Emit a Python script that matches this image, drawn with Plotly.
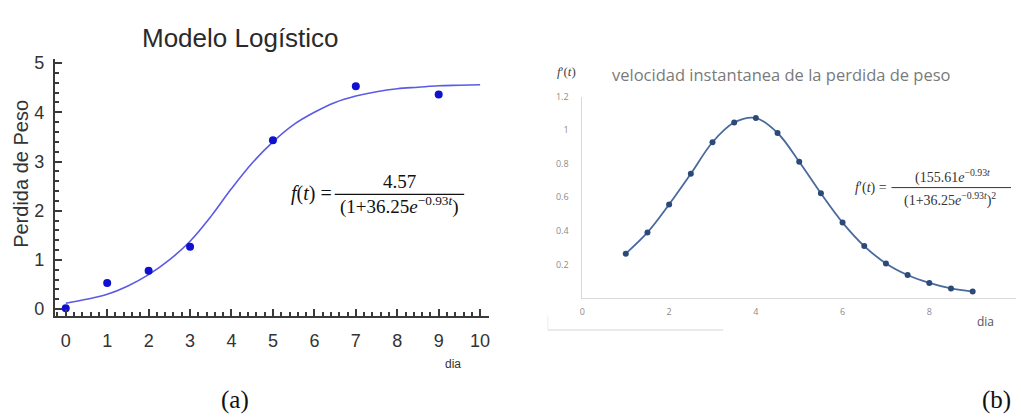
import plotly.graph_objects as go

W, H = 1021, 419

# ---------------- data ----------------
# (a) Modelo Logístico
dias_obs = [0, 1, 2, 3, 5, 7, 9]
perdida_obs = [0.02, 0.53, 0.78, 1.27, 3.43, 4.53, 4.36]
dias_ajuste = [0, 0.5, 1, 1.5, 2, 2.5, 3, 3.5, 4, 4.5, 5, 5.5, 6, 6.5, 7, 7.5, 8, 8.5, 9, 9.5, 10]
perdida_ajuste = [0.12, 0.2, 0.3, 0.47, 0.7, 1.0, 1.38, 1.88, 2.45, 2.97, 3.4, 3.75, 4.0, 4.2,
                  4.33, 4.42, 4.48, 4.51, 4.54, 4.55, 4.56]
ticks_a_x = [0, 1, 2, 3, 4, 5, 6, 7, 8, 9, 10]
ticks_a_y = [0, 1, 2, 3, 4, 5]

# (b) velocidad instantanea
dias_vel = [1, 1.5, 2, 2.5, 3, 3.5, 4, 4.5, 5, 5.5, 6, 6.5, 7, 7.5, 8, 8.5, 9]
velocidad = [0.265, 0.391, 0.558, 0.740, 0.928, 1.045, 1.072, 0.983, 0.812, 0.624,
             0.450, 0.310, 0.207, 0.138, 0.091, 0.058, 0.039]
ticks_b_x = [0, 2, 4, 6, 8, 10]
ticks_b_y = [0.2, 0.4, 0.6, 0.8, 1.0, 1.2]
ticks_b_y_text = ["0.2", "0.4", "0.6", "0.8", "1", "1.2"]


def px(x):
    return x / W


def py(y):
    return 1 - y / H


fig = go.Figure()

fig.add_trace(go.Scatter(x=dias_ajuste, y=perdida_ajuste, mode="lines",
                         line=dict(color="#5a5ae6", width=1.6, shape="spline"),
                         xaxis="x", yaxis="y", hoverinfo="skip"))
fig.add_trace(go.Scatter(x=dias_obs, y=perdida_obs, mode="markers",
                         marker=dict(color="#1010d0", size=8),
                         xaxis="x", yaxis="y"))

fig.add_trace(go.Scatter(x=dias_vel, y=velocidad, mode="lines+markers",
                         line=dict(color="#4a6a9e", width=1.8, shape="spline"),
                         marker=dict(color="#2c4a78", size=6),
                         xaxis="x2", yaxis="y2"))

axis_dark = "#3a3a3a"
sans = "Liberation Sans, Arial, sans-serif"
serif = "Liberation Serif, Times New Roman, serif"

fig.update_layout(
    width=W, height=H,
    margin=dict(l=0, r=0, t=0, b=0),
    paper_bgcolor="white", plot_bgcolor="white",
    showlegend=False,
    xaxis=dict(domain=[px(52), px(488)], range=[(52 - 63) / 41.6, (488 - 63) / 41.6],
               anchor="y", showgrid=False, zeroline=False,
               showline=True, linecolor=axis_dark, linewidth=2,
               tickmode="array", tickvals=ticks_a_x,
               ticks="inside", ticklen=7, tickwidth=1.5, tickcolor=axis_dark,
               ticklabelstandoff=7,
               minor=dict(ticks="inside", ticklen=4, dtick=0.2, tickcolor=axis_dark, showgrid=False),
               tickfont=dict(family=sans, size=18, color="#333333")),
    yaxis=dict(domain=[py(316.5), py(53)], range=[(309.5 - 316.5) / 50.4, (309.5 - 53) / 50.4],
               anchor="x", showgrid=False, zeroline=False,
               showline=True, linecolor=axis_dark, linewidth=2,
               tickmode="array", tickvals=ticks_a_y,
               ticks="inside", ticklen=7, tickwidth=1.5, tickcolor=axis_dark,
               ticklabelstandoff=5,
               minor=dict(ticks="inside", ticklen=4, dtick=0.2, tickcolor=axis_dark, showgrid=False),
               tickfont=dict(family=sans, size=18, color="#333333")),
    xaxis2=dict(domain=[px(581.7), px(1017)], range=[0, 10],
                anchor="y2", showgrid=False, zeroline=False,
                showline=True, linecolor="#d9d9d9", linewidth=1,
                tickmode="array", tickvals=ticks_b_x, ticks="",
                ticklabelstandoff=5,
                tickfont=dict(family="Open Sans, sans-serif", size=9, color="#8c8c8c")),
    yaxis2=dict(domain=[py(298.3), py(91.7)], range=[0, 1.2],
                anchor="x2", showgrid=False, zeroline=False,
                showline=True, linecolor="#d9d9d9", linewidth=1,
                tickmode="array", tickvals=ticks_b_y, ticktext=ticks_b_y_text, ticks="",
                ticklabelstandoff=11,
                tickfont=dict(family="Open Sans, sans-serif", size=9, color="#8c8c8c")),
)

ann = []


def add_text(text, x, y, size, family, color="#222222", xanchor="center", yanchor="middle", angle=0):
    ann.append(dict(text=text, x=px(x), y=py(y), xref="paper", yref="paper",
                    xanchor=xanchor, yanchor=yanchor, showarrow=False, textangle=angle,
                    font=dict(size=size, family=family, color=color)))


# (a)
add_text("Modelo Logístico", 238, 32, 26, sans, "#2a2a2a")
add_text("Perdida de Peso", 18, 171, 20, sans, "#333333", angle=-90)
add_text("dia", 452, 366, 12, sans, "#333333")
add_text("(a)", 233, 403, 25, serif, "#111111")
add_text("<i>f</i>(<i>t</i>) =", 332, 191, 20, serif, "#111111", xanchor="right")
add_text("4.57", 398, 179, 19, serif, "#111111")
add_text("(1+36.25<i>e</i><sup>−0.93<i>t</i></sup>)", 398, 203, 19, serif, "#111111")

# (b)
add_text("velocidad instantanea de la perdida de peso", 781.5, 69, 16.5, "Open Sans, sans-serif", "#7a7a7a")
add_text("<i>f</i>′(<i>t</i>)", 566, 66, 13, serif, "#444444")
add_text("dia", 986, 322, 12, "Open Sans, sans-serif", "#555555")
add_text("(b)", 997, 403, 25, serif, "#111111")
add_text("<i>f</i>′(<i>t</i>) =", 889, 185, 14, serif, "#333333", xanchor="right")
add_text("(155.61<i>e</i><sup>−0.93<i>t</i></sup>", 953, 174, 14, serif, "#333333")
add_text("(1+36.25<i>e</i><sup>−0.93<i>t</i></sup>)<sup>2</sup>", 951, 197, 14, serif, "#333333")

fig.update_layout(annotations=ann)

shapes = [
    # fraction bars
    dict(type="line", xref="paper", yref="paper", x0=px(333), x1=px(463), y0=py(192), y1=py(192),
         line=dict(color="#111111", width=1.2)),
    dict(type="line", xref="paper", yref="paper", x0=px(892), x1=px(1012), y0=py(185), y1=py(185),
         line=dict(color="#333333", width=1)),
    # faint scrollbar-like line under (b)
    dict(type="line", xref="paper", yref="paper", x0=px(547), x1=px(723), y0=py(331), y1=py(331),
         line=dict(color="#e3e3e3", width=1.5)),
    dict(type="line", xref="paper", yref="paper", x0=px(547), x1=px(547), y0=py(316), y1=py(331),
         line=dict(color="#ececec", width=1)),
]
fig.update_layout(shapes=shapes)

fig.write_html("out.html",
               config={"displayModeBar": False},
               post_script="document.body.style.margin='0px';document.body.style.overflow='hidden';")
